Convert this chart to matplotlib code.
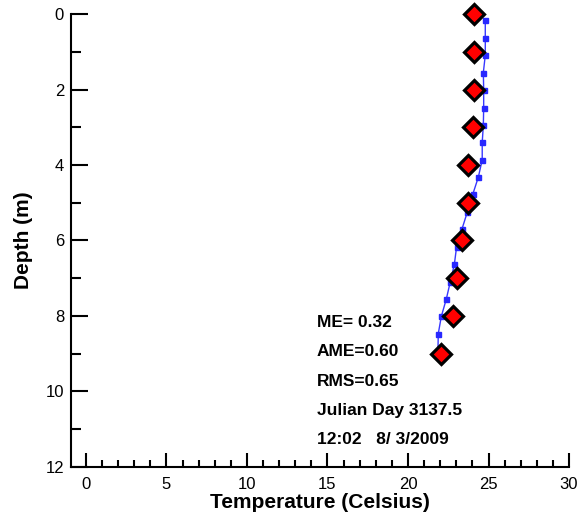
import matplotlib
matplotlib.use("Agg")
import matplotlib.pyplot as plt
from matplotlib.ticker import MultipleLocator

plt.rcParams["font.family"] = ["Liberation Sans", "DejaVu Sans"]

# model profile (blue line with squares)
model_depth = [0.17, 0.63, 1.09, 1.55, 2.01, 2.48, 2.94, 3.40, 3.86, 4.32,
               4.78, 5.24, 5.70, 6.16, 6.63, 7.09, 7.55, 8.01, 8.47, 8.93]
model_temp = [24.80, 24.80, 24.80, 24.68, 24.70, 24.70, 24.68, 24.61, 24.61, 24.37,
              24.02, 23.69, 23.35, 23.02, 22.88, 22.63, 22.38, 22.07, 21.88, 21.86]

# observations (red diamonds)
obs_depth = [0, 1, 2, 3, 4, 5, 6, 7, 8, 9]
obs_temp = [24.10, 24.10, 24.10, 24.02, 23.75, 23.75, 23.35, 23.06, 22.81, 22.07]

stats = ["ME= 0.32", "AME=0.60", "RMS=0.65", "Julian Day 3137.5", "12:02   8/ 3/2009"]

fig = plt.figure(figsize=(5.83, 5.13), dpi=100)
ax = fig.add_axes([0.1218, 0.0897, 0.976 - 0.1218, 0.9727 - 0.0897])

ax.plot(model_temp, model_depth, "-", color="#3838ff", lw=1.0,
        marker="s", ms=3.6, mfc="#2828ff", mec="#2828ff", zorder=2, clip_on=False)
ax.plot(obs_temp, obs_depth, "D", ms=10, mfc="red", mec="black", mew=2.3,
        linestyle="none", zorder=3, clip_on=False)

ax.set_xlim(-0.93, 30)
ax.set_ylim(12, 0)

ax.xaxis.set_major_locator(MultipleLocator(5))
ax.xaxis.set_minor_locator(MultipleLocator(1))
ax.yaxis.set_major_locator(MultipleLocator(2))
ax.yaxis.set_minor_locator(MultipleLocator(1))

ax.tick_params(axis="both", which="both", direction="in", width=1.5)
ax.tick_params(axis="x", which="major", length=10, pad=7, labelsize=12)
ax.tick_params(axis="x", which="minor", length=5)
ax.tick_params(axis="y", which="major", length=12, pad=5, labelsize=12)
ax.tick_params(axis="y", which="minor", length=7)

for side in ["top", "right"]:
    ax.spines[side].set_visible(False)
for side in ["left", "bottom"]:
    ax.spines[side].set_linewidth(1.5)

ax.set_xlabel("Temperature (Celsius)", fontsize=15, fontweight="bold", labelpad=1)
ax.set_ylabel("Depth (m)", fontsize=15, fontweight="bold", labelpad=9)

for i, s in enumerate(stats):
    ax.text(14.32, 8.29 + i * 0.778, s, fontsize=12.5, fontweight="bold",
            ha="left", va="baseline")

fig.savefig("out.png", dpi=100)
